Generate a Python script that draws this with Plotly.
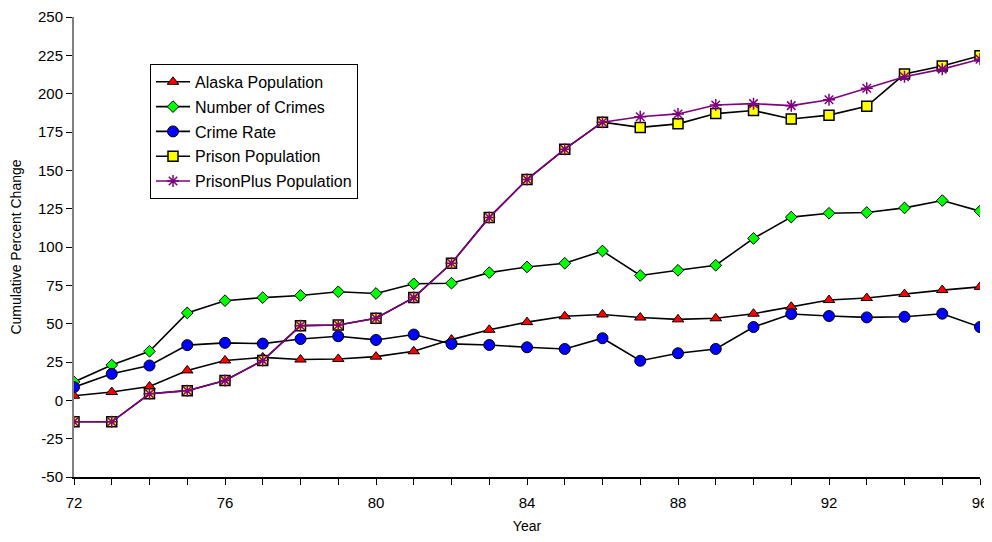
import plotly.graph_objects as go

years = list(range(72, 97))

alaska_population = [3, 5.4, 9, 19.5, 26, 28, 26.6, 27, 28.5, 32, 39.6, 46, 51, 54.8, 56,
                     54, 52.8, 53.5, 56.5, 61, 65.4, 66.7, 69.3, 71.9, 74]
number_of_crimes = [12, 23, 32, 57, 65, 67, 68.4, 70.8, 69.7, 76, 76.4, 83.3, 87, 89.4, 97.4,
                    81.4, 84.8, 88.1, 105.6, 119.5, 122, 122.5, 125.5, 130.3, 123.4]
crime_rate = [8.6, 17.3, 22.7, 36, 37.5, 37, 40, 41.8, 39.4, 42.9, 36.8, 36.1, 34.6, 33.5, 40.5,
              25.8, 30.7, 33.5, 47.8, 56.3, 55, 54.1, 54.5, 56.5, 47.8]
prison_population = [-14, -14, 4.3, 6.3, 13, 26, 48.7, 49.1, 53.5, 67, 89.4, 119.3, 144, 163.8, 181.4,
                      178, 180.3, 187, 189, 183.5, 186, 191.8, 212.8, 218, 224.7]
prisonplus_population = [-14, -14, 4.3, 6.3, 13, 26, 48.7, 49.1, 53.5, 67, 89.4, 119.3, 144, 163.8, 181.4,
                         184.9, 186.8, 192.6, 193.5, 192.2, 196, 203.5, 211, 216, 222.5]

series_names = ["Alaska Population", "Number of Crimes", "Crime Rate",
                "Prison Population", "PrisonPlus Population"]
x_tick_vals = [72, 76, 80, 84, 88, 92, 96]
y_tick_vals = list(range(-50, 251, 25))
y_tick_text = [str(v) for v in y_tick_vals]

fig = go.Figure()
styles = [
    (alaska_population, "black", dict(symbol="triangle-up", size=10, color="#FF0000",
                                      line=dict(color="black", width=1))),
    (number_of_crimes, "black", dict(symbol="diamond", size=9, color="#00FF00",
                                     line=dict(color="black", width=1))),
    (crime_rate, "black", dict(symbol="circle", size=11, color="#0000FF",
                               line=dict(color="black", width=1))),
    (prison_population, "black", dict(symbol="square", size=10, color="#FFFF00",
                                      line=dict(color="black", width=1.5))),
    (prisonplus_population, "#800080", dict(symbol="asterisk-open", size=10, color="#800080",
                                            line=dict(color="#800080", width=1.5))),
]
for i, (vals, lc, mk) in enumerate(styles):
    fig.add_trace(go.Scatter(
        x=years, y=vals, name=series_names[i], mode="lines+markers",
        line=dict(color=lc, width=1.6), marker=mk, legendgroup=f"g{i}",
    ))

fig.update_layout(
    width=984, height=526,
    margin=dict(l=66, r=12, t=9, b=57),
    paper_bgcolor="white", plot_bgcolor="white",
    font=dict(family="Liberation Sans, Arial, sans-serif", size=15, color="black"),
    showlegend=True,
    legend=dict(x=0.0839, y=0.898, xanchor="left", yanchor="top",
                bordercolor="black", borderwidth=1, bgcolor="white",
                font=dict(size=16), tracegroupgap=1, itemwidth=34),
    xaxis=dict(range=[72, 96], tickvals=x_tick_vals, ticks="outside", ticklen=6,
               tickcolor="black", showline=True, linecolor="black", linewidth=1.5,
               showgrid=False, zeroline=False, automargin=False, ticklabelstandoff=5,
               ticklabeloverflow="allow",
               minor=dict(ticks="outside", dtick=1, tick0=72, ticklen=6, tickcolor="black"),
               title=dict(text="Year", font=dict(size=14), standoff=13)),
    yaxis=dict(range=[-50, 250], tickvals=y_tick_vals, ticktext=y_tick_text,
               ticks="outside", ticklen=6, ticklabeloverflow="allow",
               tickcolor="black", showline=True, linecolor="#808080", linewidth=2,
               showgrid=False, zeroline=False, automargin=False,
               title=dict(text="Cumulative Percent Change", font=dict(size=14), standoff=13)),
)

fig.write_html("out.html")
